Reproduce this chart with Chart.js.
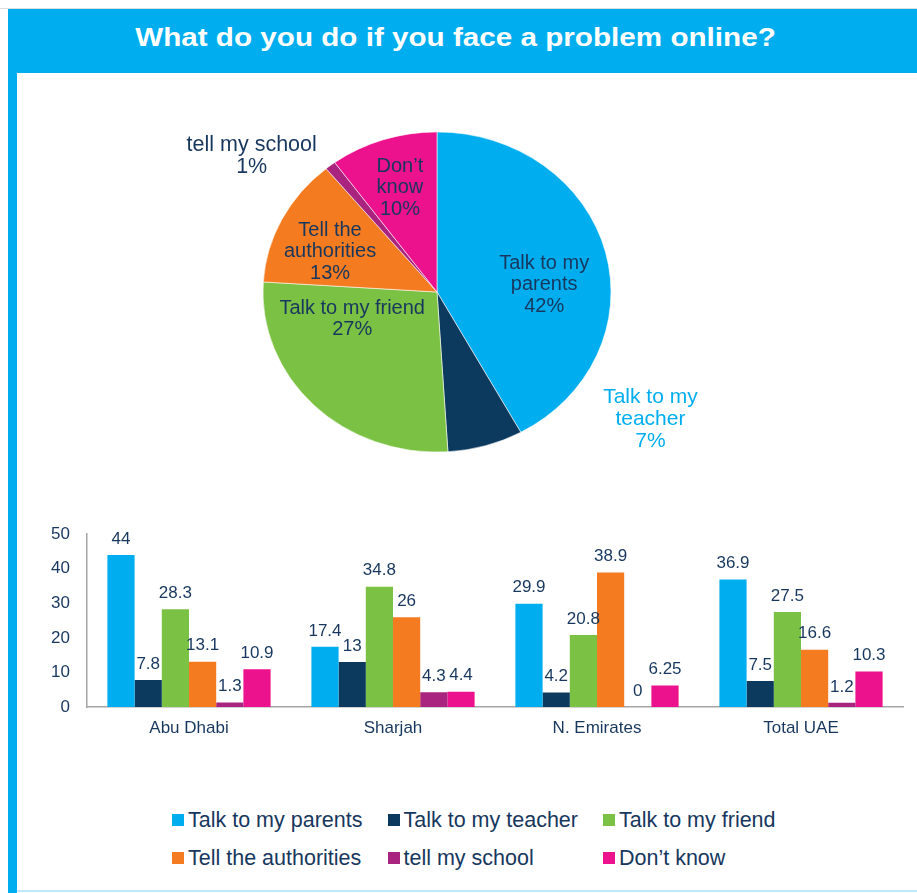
<!DOCTYPE html>
<html>
<head>
<meta charset="utf-8">
<script src="https://cdn.jsdelivr.net/npm/chart.js@4.4.1/dist/chart.umd.min.js"></script>
<style>
  body { margin: 0; background: #fff; font-family: "Liberation Sans", Arial, sans-serif; }
  #page { position: relative; width: 917px; height: 893px; overflow: hidden; background: #fff; }
  #topline { position: absolute; left: 0; top: 8px; width: 917px; height: 1px; background: #dddddd; }
  #titlebar { position: absolute; left: 8px; top: 9px; width: 909px; height: 64px; background: #00aeef; }
  #title { position: absolute; left: 0; top: 24px; width: 911px; text-align: center; color: #fff;
           font-weight: bold; font-size: 26px; line-height: 26px; white-space: nowrap;
           transform: scaleX(1.14); transform-origin: 455.5px 50%; }
  #stripe { position: absolute; left: 8px; top: 73px; width: 9px; height: 820px; background: #00aeef; }
  #bottomline { position: absolute; left: 17px; top: 890px; width: 900px; height: 2px; background: #bfe8fb; }
  #pie { position: absolute; left: 0; top: 72px; }
  #bars { position: absolute; left: 20px; top: 507px; }
  .leg { position: absolute; font-size: 21.5px; color: #17375e; white-space: nowrap; line-height: 24px; }
  .leg span { display: inline-block; width: 12px; height: 12px; margin-right: 4px; vertical-align: 1px; }
</style>
</head>
<body>
<div id="page">
  <div id="topline"></div>
  <div id="titlebar"></div>
  <div id="title">What do you do if you face a problem online?</div>
  <div id="stripe"></div>
  <div id="bottomline"></div>
  <canvas id="pie" width="917" height="420"></canvas>
  <canvas id="bars" width="897" height="238"></canvas>
  <div id="legend"></div>
</div>
<script>
// data
var regions = ['Abu Dhabi', 'Sharjah', 'N. Emirates', 'Total UAE'];
var answers = ['Talk to my parents', 'Talk to my teacher', 'Talk to my friend',
               'Tell the authorities', 'tell my school', 'Don\u2019t know'];
var parentsVals = [44, 17.4, 29.9, 36.9];
var teacherVals = [7.8, 13, 4.2, 7.5];
var friendVals = [28.3, 34.8, 20.8, 27.5];
var authoritiesVals = [13.1, 26, 38.9, 16.6];
var schoolVals = [1.3, 4.3, 0, 1.2];
var dontKnowVals = [10.9, 4.4, 6.25, 10.3];
var piePercent = [42, 7, 27, 13, 1, 10];
var pieLabelLines = [['Talk to my', 'parents'], ['Talk to my', 'teacher'], ['Talk to my friend'],
                     ['Tell the', 'authorities'], ['tell my school'], ['Don\u2019t', 'know']];
var yMin = 0, yMax = 50, yStep = 10;

var colors = ['#00aeef', '#0c3a5f', '#7bc143', '#f47b20', '#a8247f', '#ec118c'];
var navy = '#17375e';
var pieSquash = 0.92;

Chart.defaults.font.family = '"Liberation Sans", Arial, sans-serif';

// where each pie label sits: fraction of radius along the slice middle, plus a nudge
var labelPlace = [
  {r: 0.63, dx: 1, dy: 18, size: 20, color: navy, lh: 21.5},
  {r: 1.1, dx: 160, dy: -42, size: 21, color: '#00aeef', lh: 22},
  {r: 0.6, dx: -11, dy: -41, size: 20, color: navy, lh: 21},
  {r: 0.69, dx: 0, dy: 10, size: 20, color: navy, lh: 21.5},
  {r: 1.25, dx: -52, dy: 22, size: 21.5, color: navy, lh: 21.7},
  {r: 0.69, dx: 0, dy: 1, size: 20, color: navy, lh: 21.5}
];

var squashPlugin = {
  id: 'squash',
  beforeDatasetsDraw: function (chart) {
    var a = chart.getDatasetMeta(0).data[0];
    var ctx = chart.ctx;
    ctx.save();
    ctx.translate(a.x, a.y);
    ctx.scale(1, pieSquash);
    ctx.translate(-a.x, -a.y);
  },
  afterDatasetsDraw: function (chart) {
    chart.ctx.restore();
  },
  afterDraw: function (chart) {
    var ctx = chart.ctx;
    chart.getDatasetMeta(0).data.forEach(function (arc, i) {
      var p = labelPlace[i];
      var mid = (arc.startAngle + arc.endAngle) / 2;
      var x = arc.x + Math.cos(mid) * arc.outerRadius * p.r + p.dx;
      var y = arc.y + Math.sin(mid) * arc.outerRadius * p.r * pieSquash + p.dy;
      var lines = pieLabelLines[i].concat(piePercent[i] + '%');
      ctx.save();
      ctx.font = p.size + 'px "Liberation Sans", Arial, sans-serif';
      ctx.fillStyle = p.color;
      ctx.textAlign = 'center';
      ctx.textBaseline = 'middle';
      var y0 = y - (lines.length - 1) * p.lh / 2;
      lines.forEach(function (t, k) { ctx.fillText(t, x, y0 + k * p.lh); });
      ctx.restore();
    });
  }
};

new Chart(document.getElementById('pie').getContext('2d'), {
  type: 'pie',
  data: {
    labels: answers,
    datasets: [{
      data: piePercent,
      backgroundColor: colors,
      borderColor: 'rgba(255,255,255,0.6)',
      borderWidth: 1,
      radius: 174
    }]
  },
  options: {
    responsive: false,
    animation: false,
    layout: {padding: {left: 0, right: 43, top: 20, bottom: 0}},
    plugins: {legend: {display: false}, tooltip: {enabled: false}}
  },
  plugins: [squashPlugin]
});

var valueLabels = {
  id: 'valueLabels',
  afterDatasetsDraw: function (chart) {
    var ctx = chart.ctx;
    ctx.save();
    ctx.font = '17px "Liberation Sans", Arial, sans-serif';
    ctx.fillStyle = navy;
    ctx.textAlign = 'center';
    ctx.textBaseline = 'middle';
    chart.data.datasets.forEach(function (ds, i) {
      chart.getDatasetMeta(i).data.forEach(function (bar, j) {
        ctx.fillText(String(ds.data[j]), bar.x, bar.y - 16);
      });
    });
    ctx.restore();
  }
};

var series = [parentsVals, teacherVals, friendVals, authoritiesVals, schoolVals, dontKnowVals];

var barChart = new Chart(document.getElementById('bars').getContext('2d'), {
  type: 'bar',
  data: {
    labels: regions,
    datasets: series.map(function (vals, i) {
      return {label: answers[i], data: vals, backgroundColor: colors[i],
              categoryPercentage: 0.8, barPercentage: 1.0};
    })
  },
  options: {
    responsive: false,
    animation: false,
    layout: {padding: {left: 0, right: 14, top: 0, bottom: 0}},
    plugins: {legend: {display: false}, tooltip: {enabled: false}},
    scales: {
      x: {
        grid: {display: false, drawTicks: false},
        border: {display: true, color: '#a6a6a6', width: 1.5},
        ticks: {font: {size: 17}, color: navy, padding: 11},
        afterFit: function (s) { s.height = 38; }
      },
      y: {
        min: yMin, max: yMax,
        grid: {display: false, drawTicks: false},
        border: {display: true, color: '#a6a6a6', width: 1.5},
        ticks: {stepSize: yStep, font: {size: 17}, color: navy, padding: 17},
        afterFit: function (s) { s.width = 67; }
      }
    }
  },
  plugins: [valueLabels]
});

// legend in three columns, built from the bar datasets
var legend = document.getElementById('legend');
barChart.data.datasets.forEach(function (ds, i) {
  var d = document.createElement('div');
  d.className = 'leg';
  d.style.left = (172 + (i % 3) * 215.5) + 'px';
  d.style.top = (808 + Math.floor(i / 3) * 38) + 'px';
  d.innerHTML = '<span style="background:' + ds.backgroundColor + '"></span>' + ds.label;
  legend.appendChild(d);
});
</script>
</body>
</html>
